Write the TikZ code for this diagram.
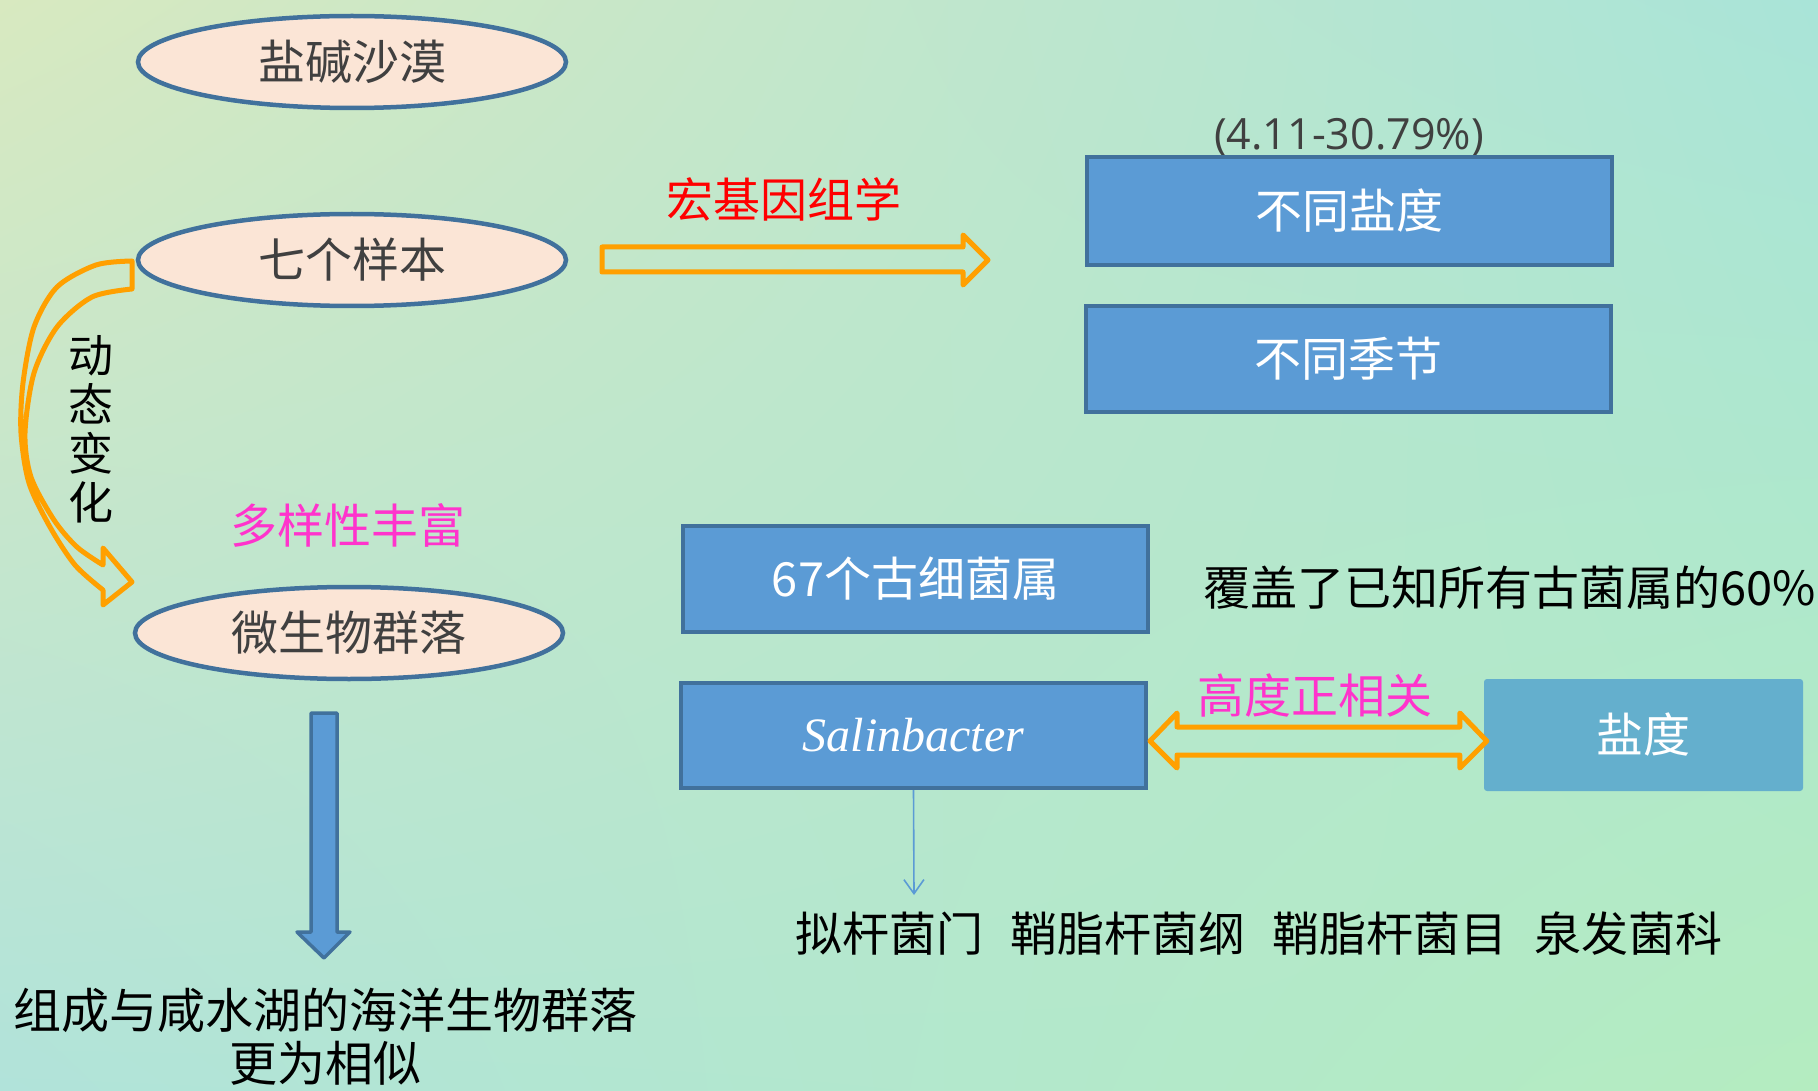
\documentclass[tikz,border=0pt]{standalone}
\usepackage{fontspec}
\setmainfont{Noto Sans CJK SC}
\newfontfamily\osans{Open Sans}
\newfontfamily\lserif{Liberation Serif}
\usetikzlibrary{shapes.geometric,arrows.meta,calc,shadings}
\definecolor{bgUL}{HTML}{D8E9C0}
\definecolor{bgUR}{HTML}{A9E4D8}
\definecolor{bgLL}{HTML}{B1E3DA}
\definecolor{bgLR}{HTML}{B4ECC0}
\definecolor{peach}{HTML}{FBE5D6}
\definecolor{eblue}{HTML}{41719C}
\definecolor{bblue}{HTML}{5B9BD5}
\definecolor{tblue}{HTML}{64AFCD}
\definecolor{orng}{HTML}{FFA000}
\definecolor{tgray}{HTML}{404040}
\definecolor{mag}{HTML}{FF33CC}
\begin{document}
\begin{tikzpicture}[x=1pt,y=-1pt,
  ell/.style={ellipse, draw=eblue, fill=peach, line width=4.5pt,
    minimum width=428pt, minimum height=92pt, inner sep=0pt, text=tgray,
    font=\fontsize{47}{55}\selectfont},
  bbox/.style={rectangle, draw=eblue, fill=bblue, line width=4pt, text=white,
    inner sep=0pt, font=\fontsize{47}{55}\selectfont},
  oarrow/.style={draw=orng, line width=5pt, line join=round},
  txt/.style={inner sep=0pt, font=\fontsize{47}{55}\selectfont},
  thinarrow/.style={draw=bblue, line width=1.6pt, -{Straight Barb[length=14pt,width=20pt]}}
]
\useasboundingbox (0,0) rectangle (1818,1091);
\shade[upper left=bgUL, upper right=bgUR, lower left=bgLL, lower right=bgLR] (0,0) rectangle (1818,1091);

% ellipses
\node[ell] (yj) at (352,62) {盐碱沙漠};
\node[ell] (qg) at (352,260) {七个样本};
\node[ell] (wsw) at (349,633) {微生物群落};

% curved arrow (dynamic change)
\draw[oarrow] plot[smooth] coordinates {(132,261) (96,265) (57,287) (34,327) (23,383) (21,433) (29,483) (50,527) (75,565) (103,590)}
  -- (103,605) -- (132,582) -- (103,548)
  -- plot[smooth] coordinates {(103,565) (77,547) (54,520) (31,477) (25,433) (34,373) (57,327) (92,297) (132,289)}
  -- cycle;
\node[txt, align=center, font=\fontsize{45}{49}\selectfont] (dt) at (91,429) {动\\态\\变\\化};

\node[txt, text=mag] (dy) at (348,525) {多样性丰富};

% metagenomics arrow
\node[txt, text=red] (hj) at (784,199) {宏基因组学};
\draw[oarrow] (602,247) -- (963,247) -- (963,235) -- (988,260) -- (963,285) -- (963,272) -- (602,272) -- cycle;

% right boxes
\node[txt, text=tgray, font=\osans\fontsize{43}{50}\selectfont] (pct) at (1349,137) {(4.11-30.79\%)};
\node[bbox, minimum width=525pt, minimum height=108pt] (s1) at (1349.5,211) {不同盐度};
\node[bbox, minimum width=525pt, minimum height=106pt] (s2) at (1348.5,359) {不同季节};

\node[bbox, minimum width=465pt, minimum height=106pt] (g67) at (915.5,579) {67个古细菌属};
\node[txt, anchor=west] (fg) at (1203,588) {覆盖了已知所有古菌属的60\%};

\node[bbox, minimum width=465pt, minimum height=105pt, font=\lserif\itshape\fontsize{48}{55}\selectfont] (sal) at (913.5,735.5) {Salinbacter};
\node[rectangle, rounded corners=3pt, fill=tblue, minimum width=319pt, minimum height=112pt, text=white, inner sep=0pt, font=\fontsize{47}{55}\selectfont] (yd) at (1643.5,735) {盐度};

\node[txt, text=mag] (gd) at (1315,696) {高度正相关};
\coordinate (dl) at ($(sal.east)+(2,5.5)$);
\coordinate (dr) at ($(yd.west)+(3,6)$);
\draw[oarrow] (dl) -- ($(dl)+(27,-28)$) -- ($(dl)+(27,-14)$) -- ($(dr)+(-27,-14)$) -- ($(dr)+(-27,-28)$)
  -- (dr) -- ($(dr)+(-27,27)$) -- ($(dr)+(-27,14)$) -- ($(dl)+(27,14)$) -- ($(dl)+(27,27)$) -- cycle;

% taxonomy
\coordinate (tb) at (914,895);
\draw[thinarrow] (sal.south) -- (tb);
\node[txt] (tax) at (1259,934) {拟杆菌门\hspace{27pt}鞘脂杆菌纲\hspace{27pt}鞘脂杆菌目\hspace{27pt}泉发菌科};

% blue down arrow
\draw[fill=bblue, draw=eblue, line width=3.5pt, line join=round]
  (311,713) -- (337,713) -- (337,932) -- (350,932) -- (324,958) -- (297,932) -- (311,932) -- cycle;
\node[txt, align=center, font=\fontsize{48}{53}\selectfont] (bt) at (325,1037) {组成与咸水湖的海洋生物群落\\更为相似};
\end{tikzpicture}
\end{document}
